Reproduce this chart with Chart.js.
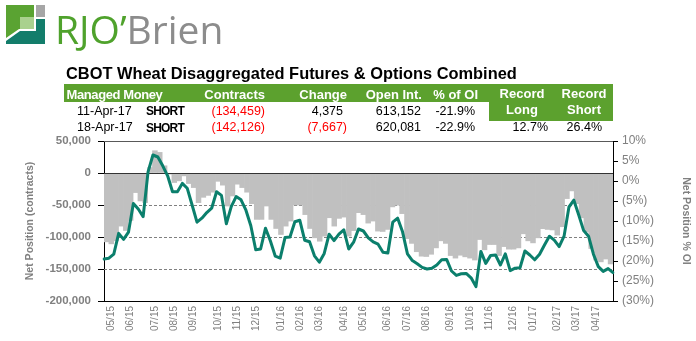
<!DOCTYPE html>
<html>
<head>
<meta charset="utf-8">
<title>CBOT Wheat Disaggregated Futures &amp; Options Combined</title>
<script src="https://cdn.jsdelivr.net/npm/chart.js@4.4.1/dist/chart.umd.min.js"></script>
<style>
  html, body { margin: 0; padding: 0; background: #fff; }
  #page { position: relative; width: 696px; height: 341px; overflow: hidden; font-family: "Liberation Sans", Arial, sans-serif; }
  #chart { position: absolute; left: 0; top: 0; }
  .txt { position: absolute; white-space: nowrap; }
  .hdr { color: #fff; font-weight: bold; font-size: 13px; line-height: 13px; }
  .cell { color: #000; font-size: 12.5px; line-height: 12.5px; }
  .neg { color: #ff0000; }
  .band { position: absolute; background: #5ca12e; }
</style>
</head>
<body>
<div id="page">
  <canvas id="chart" width="696" height="341"></canvas>

  <svg style="position:absolute;left:0;top:0" width="48" height="48" viewBox="0 0 48 48">
    <polygon points="6,5 34,5 34,29 19,29 6,38" fill="#5aa332"/>
    <rect x="20" y="17" width="14" height="12" fill="#a9d18e"/>
    <rect x="36" y="5" width="9" height="12" fill="#a6a6a6"/>
    <polygon points="36,19 45,19 45,44 6,44 6,41 20,31 36,31" fill="#137d6b"/>
  </svg>
  <div class="txt" style="left:55px;top:8.7px;font-family:'Open Sans',sans-serif;font-size:39px;line-height:39px;"><span style="color:#4fa22c">RJO’</span><span style="color:#8c8c8c">Brien</span></div>

  <div class="txt" style="left:66px;top:65px;font-weight:bold;font-size:16.4px;line-height:16.4px;color:#000;">CBOT Wheat Disaggregated Futures &amp; Options Combined</div>
  <div class="band" style="left:63.5px;top:83.5px;width:549.5px;height:18.5px;"></div>
  <div class="band" style="left:489px;top:83.5px;width:124px;height:37px;"></div>
</div>

<script>
// Weekly report dates (Tuesdays)
const weeks = [
  '2015-04-21','2015-04-28','2015-05-05','2015-05-12','2015-05-19','2015-05-26','2015-06-02','2015-06-09','2015-06-16','2015-06-23',
  '2015-06-30','2015-07-07','2015-07-14','2015-07-21','2015-07-28','2015-08-04','2015-08-11','2015-08-18','2015-08-25','2015-09-01',
  '2015-09-08','2015-09-15','2015-09-22','2015-09-29','2015-10-06','2015-10-13','2015-10-20','2015-10-27','2015-11-03','2015-11-10',
  '2015-11-17','2015-11-24','2015-12-01','2015-12-08','2015-12-15','2015-12-22','2015-12-29','2016-01-05','2016-01-12','2016-01-19',
  '2016-01-26','2016-02-02','2016-02-09','2016-02-16','2016-02-23','2016-03-01','2016-03-08','2016-03-15','2016-03-22','2016-03-29',
  '2016-04-05','2016-04-12','2016-04-19','2016-04-26','2016-05-03','2016-05-10','2016-05-17','2016-05-24','2016-05-31','2016-06-07',
  '2016-06-14','2016-06-21','2016-06-28','2016-07-05','2016-07-12','2016-07-19','2016-07-26','2016-08-02','2016-08-09','2016-08-16',
  '2016-08-23','2016-08-30','2016-09-06','2016-09-13','2016-09-20','2016-09-27','2016-10-04','2016-10-11','2016-10-18','2016-10-25',
  '2016-11-01','2016-11-08','2016-11-15','2016-11-22','2016-11-29','2016-12-06','2016-12-13','2016-12-20','2016-12-27','2017-01-03',
  '2017-01-10','2017-01-17','2017-01-24','2017-01-31','2017-02-07','2017-02-14','2017-02-21','2017-02-28','2017-03-07','2017-03-14',
  '2017-03-21','2017-03-28','2017-04-04','2017-04-11','2017-04-18'
];

// Managed money net position, contracts (left axis, grey columns)
const netContracts = [
  -107600,-110700,-106000,-83000,-89800,-74100,-30600,-43700,-46300,8600,
  34800,32200,11300,-1800,-14900,-12300,-4500,-16500,-22800,-46300,
  -38000,-35000,-30000,-13000,-19000,-51600,-35900,-17500,-22800,-30000,
  -48000,-72500,-72500,-51600,-72500,-86700,-96100,-83000,-75100,-50000,
  -50000,-65000,-86700,-101300,-106600,-98700,-69900,-83000,-70900,-68900,
  -98700,-90000,-62000,-65000,-78300,-75100,-90800,-91400,-88200,-53000,
  -50300,-63500,-102500,-110000,-123000,-130000,-130500,-127000,-117000,-106000,
  -110000,-129000,-133000,-128500,-131000,-133000,-136000,-104000,-120000,-111800,
  -111800,-129000,-115000,-119000,-119000,-117000,-95000,-106000,-109200,-101300,
  -87000,-88200,-89000,-97000,-84000,-40000,-28000,-48000,-70000,-92000,
  -118000,-136000,-138834,-134459,-142126
];

// Net position as % of open interest (right axis, green line)
const pctOfOI = [
  -19.5,-19.3,-18.3,-13.1,-14.6,-12.8,-5.6,-7.0,-8.9,2.3,
  6.5,6.0,3.8,1.3,-2.7,-2.7,-0.6,-1.8,-6.0,-10.3,
  -9.3,-7.9,-6.8,-2.7,-3.6,-10.7,-6.4,-3.9,-4.7,-7.3,
  -11.2,-17.2,-17.0,-11.8,-15.0,-18.8,-19.3,-14.1,-14.0,-10.2,
  -9.8,-14.8,-15.2,-18.7,-20.3,-18.1,-13.3,-14.9,-13.3,-12.2,
  -17.0,-15.3,-12.0,-12.5,-14.2,-15.2,-15.8,-17.8,-18.0,-10.3,
  -9.3,-12.7,-18.2,-19.9,-20.7,-21.6,-22.0,-21.8,-21.0,-19.7,
  -19.6,-22.5,-23.6,-23.2,-23.1,-24.2,-26.4,-17.6,-20.6,-18.6,
  -18.5,-21.0,-18.2,-22.4,-21.8,-21.7,-17.5,-18.5,-19.7,-18.3,
  -16.0,-13.8,-14.8,-16.4,-13.8,-6.5,-4.8,-8.5,-12.4,-13.8,
  -18.3,-21.4,-22.6,-21.9,-22.9
];

// Summary table
const tableColumns = ['Managed Money', 'Contracts', 'Change', 'Open Int.', '% of OI'];
const recordHeaders = [['Record', 'Long'], ['Record', 'Short']];
const reportDates = ['11-Apr-17', '18-Apr-17'];
const reportSide = ['SHORT', 'SHORT'];
const reportContracts = [-134459, -142126];
const reportChange = [4375, -7667];
const reportOpenInt = [613152, 620081];
const reportPctOI = [-21.9, -22.9];
const recordLong = 12.7;
const recordShort = 26.4;

// ---------- table ----------
const page = document.getElementById('page');
const PAGE_W = 696;
function put(text, cls, css) {
  const d = document.createElement('div');
  d.className = 'txt ' + cls;
  d.textContent = text;
  Object.assign(d.style, css);
  page.appendChild(d);
  return d;
}
const rightAt = x => (PAGE_W - x) + 'px';
const fmtInt = v => v < 0 ? '(' + Math.abs(v).toLocaleString('en-US') + ')' : v.toLocaleString('en-US');
const fmtPct = v => v.toFixed(1) + '%';

const hdrTop = '87.8px';
put(tableColumns[0], 'hdr', { left: '66.5px', top: hdrTop, letterSpacing: '-0.4px' });
put(tableColumns[1], 'hdr', { right: rightAt(265), top: hdrTop });
put(tableColumns[2], 'hdr', { right: rightAt(347), top: hdrTop });
put(tableColumns[3], 'hdr', { right: rightAt(422), top: hdrTop });
put(tableColumns[4], 'hdr', { right: rightAt(478), top: hdrTop });
[522, 584].forEach((cx, k) => {
  put(recordHeaders[k][0], 'hdr', { left: (cx - 40) + 'px', width: '80px', textAlign: 'center', top: '86.7px' });
  put(recordHeaders[k][1], 'hdr', { left: (cx - 40) + 'px', width: '80px', textAlign: 'center', top: '102.9px' });
});

const rowTops = [105, 121.2];
reportDates.forEach((d, r) => {
  const top = rowTops[r];
  put(d, 'cell', { left: '77px', top: top + 'px' });
  put(reportSide[r], 'cell', { left: '146px', top: (top + 0.4) + 'px', fontWeight: 'bold', fontSize: '12px', lineHeight: '12px', letterSpacing: '-0.8px' });
  put(fmtInt(reportContracts[r]), 'cell' + (reportContracts[r] < 0 ? ' neg' : ''), { right: rightAt(265), top: top + 'px' });
  const ch = put(fmtInt(reportChange[r]), 'cell' + (reportChange[r] < 0 ? ' neg' : ''), { right: rightAt(347), top: top + 'px' });
  if (reportChange[r] >= 0) ch.style.paddingRight = '4px';
  put(reportOpenInt[r].toLocaleString('en-US'), 'cell', { right: rightAt(421), top: top + 'px' });
  put(fmtPct(reportPctOI[r]), 'cell', { right: rightAt(475), top: top + 'px' });
});
put(fmtPct(recordLong), 'cell', { right: rightAt(548), top: rowTops[1] + 'px' });
put(fmtPct(recordShort), 'cell', { right: rightAt(602), top: rowTops[1] + 'px' });

// ---------- chart ----------
Chart.defaults.font.family = "'Liberation Sans', Arial, sans-serif";
const axisGray = '#808080';

// Month label on the last week before a new month starts
function monthTick(i) {
  if (i >= weeks.length - 1) return '';
  const cur = weeks[i].slice(5, 7);
  const next = weeks[i + 1];
  if (next.slice(5, 7) === cur) return '';
  return next.slice(5, 7) + '/' + next.slice(2, 4);
}
function pctTick(v) {
  if (v > 0) return v + '%';
  if (v === 0) return '0%';
  return '(' + (-v) + '%)';
}

const gridLines = {
  id: 'gridLines',
  beforeDatasetsDraw(chart) {
    const { ctx, chartArea: a, scales: { y } } = chart;
    ctx.save();
    ctx.lineWidth = 1;
    y.ticks.forEach(t => {
      if (t.value === 0 || t.value === y.min) return;
      const py = Math.round(y.getPixelForValue(t.value)) + 0.5;
      if (t.value === y.max) {
        ctx.setLineDash([]);
        ctx.strokeStyle = '#595959';
      } else {
        ctx.setLineDash([3, 2]);
        ctx.strokeStyle = '#808080';
      }
      ctx.beginPath();
      ctx.moveTo(a.left, py);
      ctx.lineTo(a.right, py);
      ctx.stroke();
    });
    ctx.restore();
  },
  afterDatasetDraw(chart, args) {
    if (args.index !== 1) return;
    const { ctx, chartArea: a, scales: { y } } = chart;
    const py = Math.round(y.getPixelForValue(0)) + 0.5;
    ctx.save();
    ctx.strokeStyle = '#333333';
    ctx.lineWidth = 1;
    ctx.beginPath();
    ctx.moveTo(a.left, py);
    ctx.lineTo(a.right, py);
    ctx.stroke();
    ctx.restore();
  }
};

new Chart(document.getElementById('chart'), {
  type: 'bar',
  data: {
    labels: weeks,
    datasets: [
      {
        type: 'line',
        label: 'Net Position % OI',
        data: pctOfOI,
        xAxisID: 'x2',
        yAxisID: 'y1',
        borderColor: '#0b7f6c',
        borderWidth: 3,
        pointRadius: 0,
        tension: 0,
        borderJoinStyle: 'round',
        borderCapStyle: 'round',
        fill: false
      },
      {
        type: 'bar',
        label: 'Net Position (contracts)',
        data: netContracts,
        xAxisID: 'x',
        yAxisID: 'y',
        backgroundColor: '#c0c0c0',
        borderColor: '#c0c0c0',
        borderWidth: 0,
        grouped: false,
        barPercentage: 1,
        categoryPercentage: 1
      }
    ]
  },
  options: {
    responsive: false,
    animation: false,
    devicePixelRatio: 1,
    datasets: { bar: { barPercentage: 1, categoryPercentage: 1, grouped: false } },
    layout: { padding: { top: 141, left: 0, right: 0, bottom: 0 } },
    plugins: { legend: { display: false }, tooltip: { enabled: false } },
    scales: {
      x: {
        type: 'category',
        offset: true,
        grid: { display: false, drawTicks: false, offset: true },
        border: { display: true, color: '#000', width: 1 },
        ticks: {
          autoSkip: false,
          minRotation: 90,
          maxRotation: 90,
          padding: 5,
          color: '#7f7f7f',
          font: { size: 10 },
          callback: (v, i) => monthTick(i)
        },
        afterFit: s => { s.height = 40; }
      },
      x2: {
        type: 'category',
        display: false,
        offset: false
      },
      y: {
        position: 'left',
        min: -200000,
        max: 50000,
        ticks: {
          stepSize: 50000,
          color: axisGray,
          padding: 7,
          font: { size: 11.5, weight: 'bold' },
          callback: v => v.toLocaleString('en-US')
        },
        grid: { display: true, drawOnChartArea: false, drawTicks: true, tickLength: 6, color: '#000' },
        border: { display: true, color: '#000', width: 1 },
        title: {
          display: true,
          text: 'Net Position (contracts)',
          color: axisGray,
          font: { size: 10.5, weight: 'bold' },
          padding: { top: 24, bottom: 0 }
        },
        afterFit: s => { s.width = 104; }
      },
      y1: {
        position: 'right',
        min: -30,
        max: 10,
        ticks: {
          stepSize: 5,
          color: axisGray,
          padding: 4,
          font: { size: 12 },
          callback: pctTick
        },
        grid: { display: true, drawOnChartArea: false, drawTicks: true, tickLength: 5, color: '#000' },
        border: { display: true, color: '#000', width: 1 },
        title: {
          display: true,
          text: 'Net Position % OI',
          color: axisGray,
          font: { size: 10.5, weight: 'bold' },
          padding: { top: 4, bottom: 0 }
        },
        afterFit: s => { s.width = 83; }
      }
    }
  },
  plugins: [gridLines]
});
</script>
</body>
</html>
